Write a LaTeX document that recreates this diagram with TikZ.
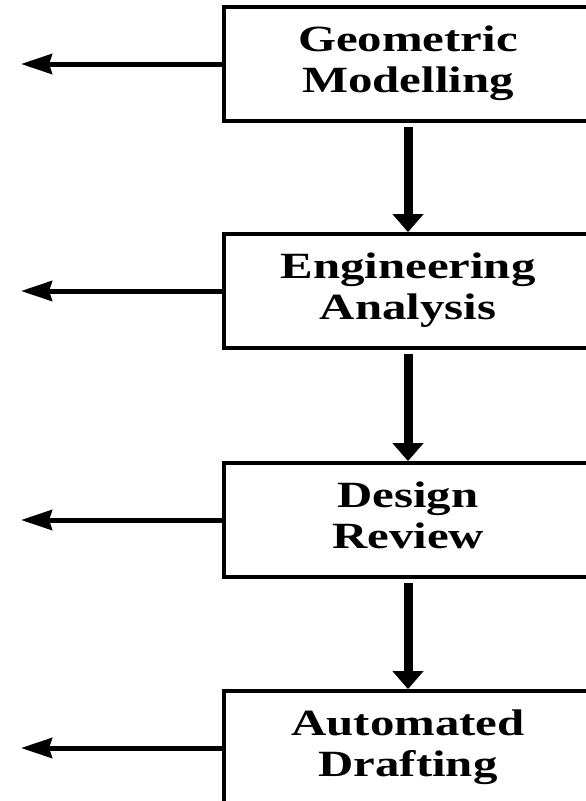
\documentclass[tikz,border=0pt]{standalone}
\usepackage{fontspec}
\setmainfont{Liberation Serif}
\usetikzlibrary{arrows.meta}
% wide bold serif lettering, two centred lines
\newcommand{\widetxt}[1]{\scalebox{1.32}[1]{#1}}
\newcommand{\twolines}[2]{\raisebox{-6pt}{\begin{tabular}{@{}c@{}}\widetxt{#1}\\\widetxt{#2}\end{tabular}}}
\tikzset{
  stagebox/.style={draw, line width=3.8pt, minimum width=368pt, minimum height=114pt,
    inner sep=0pt, font=\fontsize{37}{41}\selectfont\bfseries},
  outarrow/.style={line width=5pt, -{Stealth[length=31pt,width=20pt,inset=3pt]}},
  flowarrow/.style={line width=9pt, -{Triangle[length=18pt,width=30pt]}}
}
\begin{document}
\begin{tikzpicture}[x=1pt,y=1pt]
\useasboundingbox (0,0) rectangle (586,-801);
\clip (0,0) rectangle (586,-801);
% stages
\node[stagebox] (geo) at (408,-64)  {\twolines{Geometric}{Modelling}};
\node[stagebox] (eng) at (408,-291) {\twolines{Engineering}{Analysis}};
\node[stagebox] (rev) at (408,-520) {\twolines{Design}{Review}};
\node[stagebox] (dra) at (408,-748) {\twolines{Automated}{Drafting}};
% outputs to the left
\coordinate (geoOut) at (21,-64);
\coordinate (engOut) at (21,-291);
\coordinate (revOut) at (21,-520);
\coordinate (draOut) at (21,-748);
\draw[outarrow] (geo.west) -- (geoOut);
\draw[outarrow] (eng.west) -- (engOut);
\draw[outarrow] (rev.west) -- (revOut);
\draw[outarrow] (dra.west) -- (draOut);
% flow between stages
\draw[flowarrow] ([yshift=-4pt]geo.south) -- (eng.north);
\draw[flowarrow] ([yshift=-4pt]eng.south) -- (rev.north);
\draw[flowarrow] ([yshift=-4pt]rev.south) -- (dra.north);
\end{tikzpicture}
\end{document}
